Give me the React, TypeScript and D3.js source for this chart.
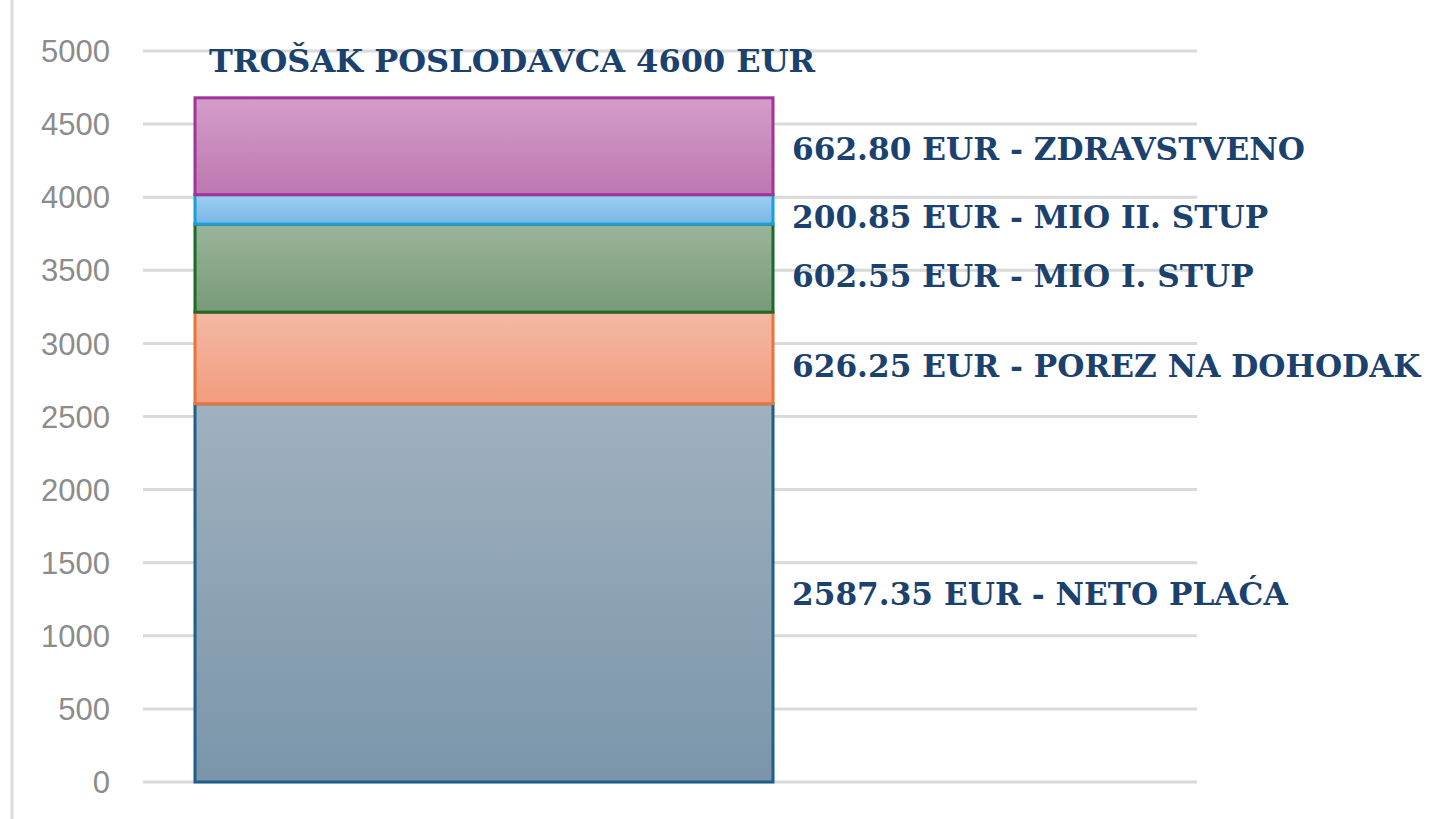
import React from "react";
import * as d3 from "d3";

const categories = ["NETO PLAĆA", "POREZ NA DOHODAK", "MIO I. STUP", "MIO II. STUP", "ZDRAVSTVENO"];
const values = [2587.35, 626.25, 602.55, 200.85, 662.8];
const valueLabels = ["2587.35", "626.25", "602.55", "200.85", "662.80"];
const yTicks = [0, 500, 1000, 1500, 2000, 2500, 3000, 3500, 4000, 4500, 5000];
const title = "TROŠAK POSLODAVCA 4600 EUR";

const fillTop = ["#a0b1bf", "#f4b9a4", "#9bb49b", "#9fcff1", "#d49dca"];
const fillBottom = ["#7a95aa", "#f29c7e", "#789a78", "#77b6e5", "#bd78af"];
const strokes = ["#1d5f8a", "#e8743b", "#1c6a28", "#1aa0d8", "#a0349a"];
const labelDy = [1, 8, 8, 7, 3];

export default function App() {
  const W = 1430, H = 819;
  const y = d3.scaleLinear().domain([0, 5000]).range([782, 51]);
  const x = d3.scaleBand().domain(["A"]).range([195, 773]).padding(0);
  const stack = d3.stack<any>().keys(categories)([
    Object.fromEntries(categories.map((c, i) => [c, values[i]])),
  ]);
  const bx = x("A") as number;
  const bw = x.bandwidth();
  const textColor = "#1b426e";
  const labelFont = "'DejaVu Serif', serif";
  return (
    <svg width={W} height={H} style={{ position: "absolute", left: 0, top: 0, background: "#fff" }}>
      <defs>
        {categories.map((c, i) => (
          <linearGradient key={c} id={`g${i}`} x1="0" y1="0" x2="0" y2="1">
            <stop offset="0" stopColor={fillTop[i]} />
            <stop offset="1" stopColor={fillBottom[i]} />
          </linearGradient>
        ))}
      </defs>
      <rect x={0} y={0} width={W} height={H} fill="#fff" />
      <line x1={12} x2={12} y1={0} y2={H} stroke="#dcdcdc" strokeWidth={3} />
      {yTicks.map((t) => (
        <g key={t}>
          <line x1={143} x2={1197} y1={y(t)} y2={y(t)} stroke="#d9d9d9" strokeWidth={3} />
          <text
            x={110}
            y={y(t)}
            dy="0.36em"
            textAnchor="end"
            fontFamily="'Liberation Sans', Arial, sans-serif"
            fontSize={31}
            fill="#8c8c8c"
          >
            {t}
          </text>
        </g>
      ))}
      {stack.map((s, i) => {
        const d = s[0];
        const y0 = y(d[0]);
        const y1 = y(d[1]);
        return (
          <rect
            key={categories[i]}
            x={bx}
            y={y1}
            width={bw}
            height={y0 - y1}
            fill={`url(#g${i})`}
            stroke={strokes[i]}
            strokeWidth={3}
          />
        );
      })}
      {stack.map((s, i) => {
        const d = s[0];
        const mid = y((d[0] + d[1]) / 2);
        return (
          <text
            key={"l" + i}
            x={792}
            y={mid + labelDy[i]}
            dy="0.36em"
            fontFamily={labelFont}
            fontWeight="bold"
            fontSize={31.2}
            fill={textColor}
          >
            {`${valueLabels[i]} EUR - ${categories[i]}`}
          </text>
        );
      })}
      <text
        x={209}
        y={72}
        fontFamily={labelFont}
        fontWeight="bold"
        fontSize={32}
        fill={textColor}
      >
        {title}
      </text>
    </svg>
  );
}
